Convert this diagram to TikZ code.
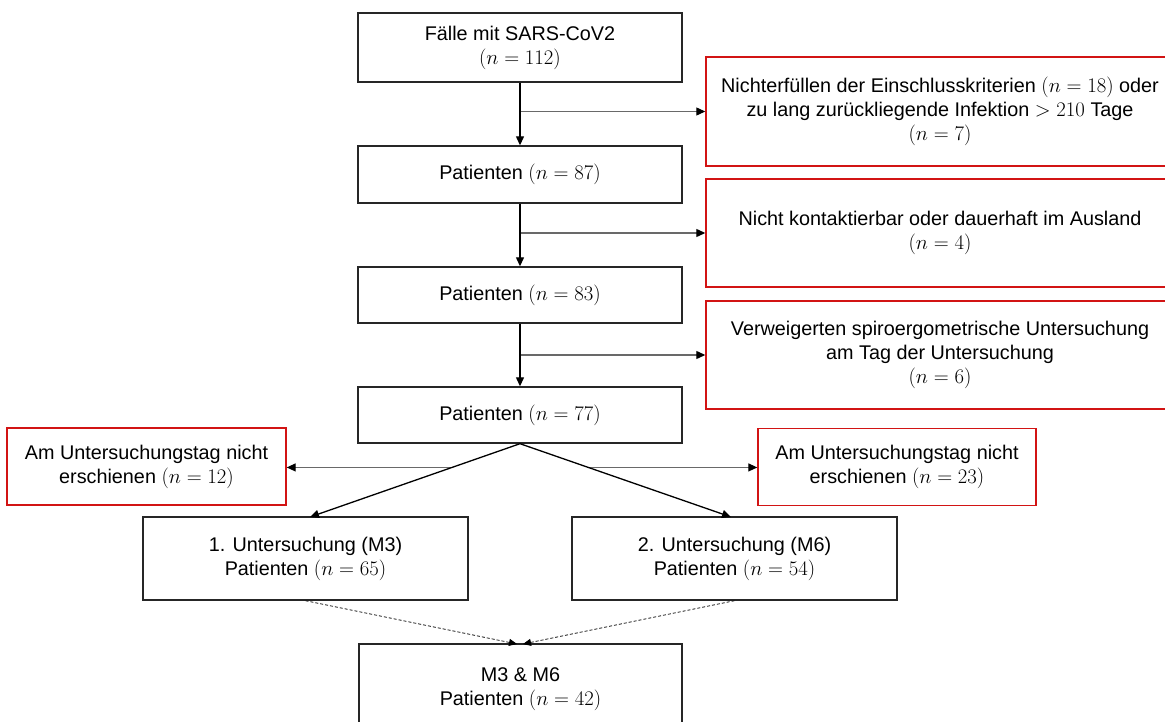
\documentclass[tikz,border=0pt]{standalone}
\usepackage{fontspec}
\setmainfont{Liberation Sans}
\usetikzlibrary{arrows.meta,calc}
\definecolor{boxred}{RGB}{210,20,20}
\definecolor{linegray}{RGB}{105,105,105}
\begin{document}
\begin{tikzpicture}[x=1pt,y=-1pt,
  every node/.style={font=\fontsize{19.8}{24}\selectfont, align=center, inner sep=0pt},
  mainbox/.style={draw=black!85, line width=1.4pt, fill=white},
  redbox/.style={draw=boxred, line width=1.4pt, fill=white},
  tip/.style={-{Triangle[length=9pt,width=8pt,color=black]}},
  trunk/.style={tip, line width=1.3pt, black},
  branch/.style={tip, line width=1.2pt, linegray},
  dotarrow/.style={-{Triangle[length=8pt,width=7pt,color=black]}, line width=0.8pt, black!90, dash pattern=on 3pt off 2pt}
]
\useasboundingbox (0,0) rectangle (1165,722);
\begin{scope}
\clip (0,0) rectangle (1165,722);
% main boxes
\node[mainbox, minimum width=324pt, minimum height=69pt] (b1) at (520,47.5) {Fälle mit SARS-CoV2\\$(n=112)$};
\node[mainbox, minimum width=324pt, minimum height=57pt] (b2) at (520,174.5) {Patienten $(n=87)$};
\node[mainbox, minimum width=324pt, minimum height=56pt] (b3) at (520,295) {Patienten $(n=83)$};
\node[mainbox, minimum width=324pt, minimum height=56pt] (b4) at (520,415) {Patienten $(n=77)$};
\node[mainbox, minimum width=325pt, minimum height=83pt] (m3) at (305.5,558.5) {1. Untersuchung (M3)\\Patienten $(n=65)$};
\node[mainbox, minimum width=325pt, minimum height=83pt] (m6) at (734.5,558.5) {2. Untersuchung (M6)\\Patienten $(n=54)$};
\node[mainbox, minimum width=323pt, minimum height=90pt] (m36) at (520.5,689) {M3 \& M6\\Patienten $(n=42)$};
% red boxes
\node[redbox, minimum width=468pt, minimum height=109pt] (r1) at (940,111.5) {Nichterfüllen der Einschlusskriterien $(n=18)$ oder\\zu lang zurückliegende Infektion $>210$ Tage\\$(n=7)$};
\node[redbox, minimum width=468pt, minimum height=108pt] (r2) at (940,233) {Nicht kontaktierbar oder dauerhaft im Ausland\\$(n=4)$};
\node[redbox, minimum width=468pt, minimum height=108pt] (r3) at (940,355) {Verweigerten spiroergometrische Untersuchung\\am Tag der Untersuchung\\$(n=6)$};
\node[redbox, minimum width=279pt, minimum height=77pt] (rl) at (146.5,466.5) {Am Untersuchungstag nicht\\erschienen $(n=12)$};
\node[redbox, minimum width=278pt, minimum height=77pt] (rr) at (897,467) {Am Untersuchungstag nicht\\erschienen $(n=23)$};
% branch points
\coordinate (j1) at (b1.south |- r1.west);
\coordinate (j2) at (b2.south |- r2.west);
\coordinate (j3) at (b3.south |- r3.west);
\coordinate (t3) at (310,517);
\coordinate (t6) at (731,517);
\coordinate (jl) at ($(b4.south)!0.324!(t3)$);
\coordinate (jr) at ($(b4.south)!0.324!(t6)$);
\coordinate (d3) at (517,644);
\coordinate (d6) at (523,644);
% connectors
\draw[branch] (j1) -- (r1.west);
\draw[branch] (j2) -- (r2.west);
\draw[branch] (j3) -- (r3.west);
\draw[branch] (jl) -- (rl.east |- jl);
\draw[branch] (jr) -- (rr.west |- jr);
\draw[trunk] (b1.south) -- (b2.north);
\draw[trunk] (b2.south) -- (b3.north);
\draw[trunk] (b3.south) -- (b4.north);
\draw[trunk] (b4.south) -- (t3);
\draw[trunk] (b4.south) -- (t6);
\draw[dotarrow] (m3.south) -- (d3);
\draw[dotarrow] (m6.south) -- (d6);
\end{scope}
\end{tikzpicture}
\end{document}
